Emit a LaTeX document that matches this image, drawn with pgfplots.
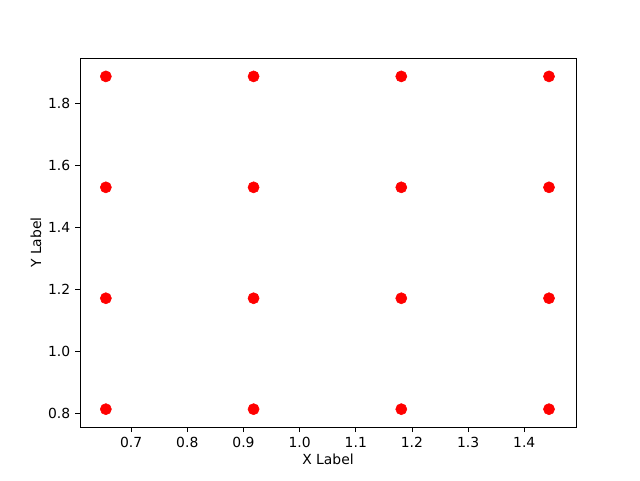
\documentclass[border=0pt]{standalone}
\usepackage{pgfplots}
\pgfplotsset{compat=1.18}
\usepackage{fontspec}
\setmainfont{DejaVu Sans}
\begin{document}
\begin{tikzpicture}
\begin{axis}[
  scale only axis,
  width=357pt, height=265.7pt,
  xmin=0.609, xmax=1.492,
  ymin=0.757, ymax=1.945,
  xtick={0.7,0.8,...,1.41},
  ytick={0.8,1.0,...,1.81},
  xticklabel style={/pgf/number format/.cd,fixed,fixed zerofill,precision=1},
  yticklabel style={/pgf/number format/.cd,fixed,fixed zerofill,precision=1},
  /pgf/number format/assume math mode=true,
  tick align=outside,
  tick pos=left,
  major tick length=3.5pt,
  tick style={black, line width=0.6pt},
  axis line style={line width=0.6pt},
  font=\fontsize{10}{12}\selectfont,
  xlabel={X Label}, ylabel={Y Label},
  xlabel style={yshift=2pt},
  ylabel style={yshift=-2pt},
]
\addplot[only marks, mark=*, mark size=4pt, color=red] coordinates {
  (0.655,0.815) (0.655,1.172) (0.655,1.529) (0.655,1.886)
  (0.918,0.815) (0.918,1.172) (0.918,1.529) (0.918,1.886)
  (1.181,0.815) (1.181,1.172) (1.181,1.529) (1.181,1.886)
  (1.444,0.815) (1.444,1.172) (1.444,1.529) (1.444,1.886)
};
\end{axis}
\path[use as bounding box] ([shift={(-57.6pt,-38.2pt)}]current axis.south west) rectangle ([shift={(46.1pt,41.8pt)}]current axis.north east);
\end{tikzpicture}
\end{document}
